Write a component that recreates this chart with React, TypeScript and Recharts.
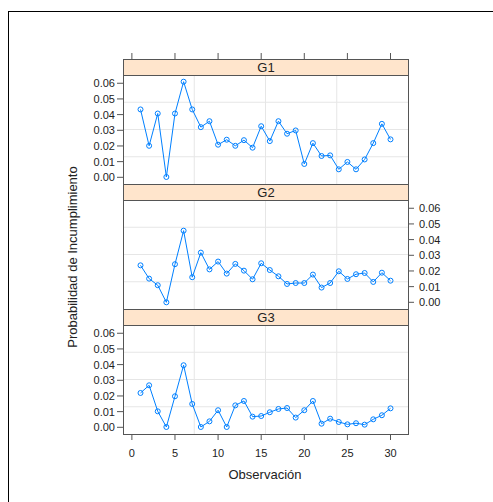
import React from "react";
import { LineChart, Line, XAxis, YAxis, ReferenceLine } from "recharts";

// observation index and probability of default per group
const obs = [1, 2, 3, 4, 5, 6, 7, 8, 9, 10, 11, 12, 13, 14, 15, 16, 17, 18, 19, 20, 21, 22, 23, 24, 25, 26, 27, 28, 29, 30];
const g1 = [0.0433, 0.0201, 0.0407, 0.0002, 0.0407, 0.061, 0.0433, 0.032, 0.0358, 0.0208, 0.024, 0.0201, 0.0237, 0.0189, 0.0326, 0.0231, 0.0358, 0.0278, 0.0299, 0.0085, 0.0218, 0.0136, 0.014, 0.0051, 0.0098, 0.0051, 0.0114, 0.0218, 0.0341, 0.0242];
const g2 = [0.0236, 0.0151, 0.0109, 0.0, 0.0243, 0.0457, 0.016, 0.0317, 0.021, 0.026, 0.0183, 0.0245, 0.0202, 0.0147, 0.0249, 0.0206, 0.0166, 0.0117, 0.0123, 0.0123, 0.0177, 0.0094, 0.0123, 0.0198, 0.0149, 0.0179, 0.0187, 0.013, 0.0189, 0.0138];
const g3 = [0.0219, 0.0268, 0.0102, 0.0002, 0.0198, 0.0396, 0.0149, 0.0002, 0.0038, 0.0109, 0.0002, 0.014, 0.0168, 0.0068, 0.0072, 0.0096, 0.0117, 0.0123, 0.0062, 0.0109, 0.0168, 0.0023, 0.0055, 0.0034, 0.0019, 0.0026, 0.0017, 0.0051, 0.0077, 0.0121];
const groups = ["G1", "G2", "G3"];
const xTicks = [0, 5, 10, 15, 20, 25, 30];
const yTicks = [0, 0.01, 0.02, 0.03, 0.04, 0.05, 0.06];

const data = obs.map((o, i) => ({ obs: o, G1: g1[i], G2: g2[i], G3: g3[i] }));

// lattice-style 7% padding around data range
const allY = [...g1, ...g2, ...g3];
const yLo = Math.min(...allY);
const yHi = Math.max(...allY);
const yDomain = [yLo - 0.07 * (yHi - yLo), yHi + 0.07 * (yHi - yLo)];
const xLo = Math.min(...obs);
const xHi = Math.max(...obs);
const xDomain = [xLo - 0.07 * (xHi - xLo), xHi + 0.07 * (xHi - xLo)];
const gridX = [1, 2, 3].map((i) => xDomain[0] + (i * (xDomain[1] - xDomain[0])) / 4);
const gridY = [1, 2, 3].map((i) => yDomain[0] + (i * (yDomain[1] - yDomain[0])) / 4);

const W = 493;
const H = 502;
const PL = 123;
const PR = 408;
const STRIP_H = 16;
const PANEL_H = 109;
const FIRST = 59;
const BLOCK = STRIP_H + PANEL_H;
const AX_W = 40;
const AX_H = 30;
const BLUE = "#0080ff";
const BORDER = "#555";
const FONT = "'Liberation Sans', Arial, sans-serif";
const tickFont = { fontSize: 11, fill: "#222", fontFamily: FONT };

function Panel({ name, idx }: { name: string; idx: number }) {
  const stripTop = FIRST + idx * BLOCK;
  const plotTop = stripTop + STRIP_H;
  const plotBottom = plotTop + PANEL_H;
  const isTop = idx === 0;
  const isBottom = idx === groups.length - 1;
  const labelsLeft = idx !== 1;

  const TopTick = (p: any) => (
    <line x1={p.x} x2={p.x} y1={stripTop - 6} y2={stripTop} stroke={BORDER} />
  );

  return (
    <div style={{ position: "absolute", left: 0, top: 0 }}>
      <LineChart
        width={W}
        height={H}
        data={data}
        margin={{
          top: isTop ? plotTop - AX_H : plotTop,
          bottom: H - plotBottom - (isBottom ? AX_H : 0),
          left: PL - AX_W,
          right: W - PR - AX_W,
        }}
      >
        <XAxis
          dataKey="obs"
          type="number"
          domain={xDomain}
          ticks={xTicks}
          interval={0}
          allowDataOverflow
          hide={!isTop && !isBottom}
          orientation={isTop ? "top" : "bottom"}
          height={AX_H}
          axisLine={false}
          tickLine={isBottom ? { stroke: BORDER } : false}
          tickSize={6}
          tickMargin={9}
          tick={isTop ? <TopTick /> : tickFont}
        />
        <YAxis
          yAxisId="left"
          orientation="left"
          type="number"
          domain={yDomain}
          ticks={yTicks}
          interval={0}
          allowDataOverflow
          width={AX_W}
          axisLine={false}
          tickLine={{ stroke: BORDER }}
          tickSize={6}
          tickMargin={2}
          tick={labelsLeft ? tickFont : false}
          tickFormatter={(v: number) => v.toFixed(2)}
        />
        <YAxis
          yAxisId="right"
          orientation="right"
          type="number"
          domain={yDomain}
          ticks={yTicks}
          interval={0}
          allowDataOverflow
          width={AX_W}
          axisLine={false}
          tickLine={{ stroke: BORDER }}
          tickSize={6}
          tickMargin={5}
          tick={labelsLeft ? false : tickFont}
          tickFormatter={(v: number) => v.toFixed(2)}
        />
        {gridX.map((v) => (
          <ReferenceLine key={"gx" + v} x={v} yAxisId="left" stroke="#e6e6e6" />
        ))}
        {gridY.map((v) => (
          <ReferenceLine key={"gy" + v} y={v} yAxisId="left" stroke="#e6e6e6" />
        ))}
        <Line
          yAxisId="left"
          dataKey={name}
          type="linear"
          stroke={BLUE}
          strokeWidth={1}
          dot={{ r: 2.5, stroke: BLUE, strokeWidth: 1, fill: "none" }}
          isAnimationActive={false}
        />
      </LineChart>
      <div
        style={{
          position: "absolute",
          left: PL,
          top: stripTop,
          width: PR - PL + 1,
          height: STRIP_H + 1,
          boxSizing: "border-box",
          border: `1px solid ${BORDER}`,
          background: "#ffe5cc",
          textAlign: "center",
          fontFamily: FONT,
          fontSize: 13,
          lineHeight: `${STRIP_H - 1}px`,
          color: "#222",
        }}
      >
        {name}
      </div>
      <div
        style={{
          position: "absolute",
          left: PL,
          top: plotTop,
          width: PR - PL + 1,
          height: PANEL_H + 1,
          boxSizing: "border-box",
          border: `1px solid ${BORDER}`,
        }}
      />
    </div>
  );
}

export default function App() {
  return (
    <div style={{ position: "absolute", left: 0, top: 0, width: W, height: H, overflow: "hidden", background: "#fff" }}>
      <div
        style={{
          position: "absolute",
          left: 8,
          top: 11,
          width: W,
          height: H,
          borderLeft: "1px solid #000",
          borderTop: "1px solid #000",
        }}
      />
      {groups.map((g, i) => (
        <Panel key={g} name={g} idx={i} />
      ))}
      <div
        style={{
          position: "absolute",
          left: 265,
          top: 467,
          transform: "translateX(-50%)",
          whiteSpace: "nowrap",
          fontFamily: FONT,
          fontSize: 13,
          color: "#222",
        }}
      >
        Observación
      </div>
      <div
        style={{
          position: "absolute",
          left: 72,
          top: 257,
          transform: "translate(-50%, -50%) rotate(-90deg)",
          whiteSpace: "nowrap",
          fontFamily: FONT,
          fontSize: 13,
          color: "#222",
        }}
      >
        Probabilidad de Incumplimiento
      </div>
    </div>
  );
}
